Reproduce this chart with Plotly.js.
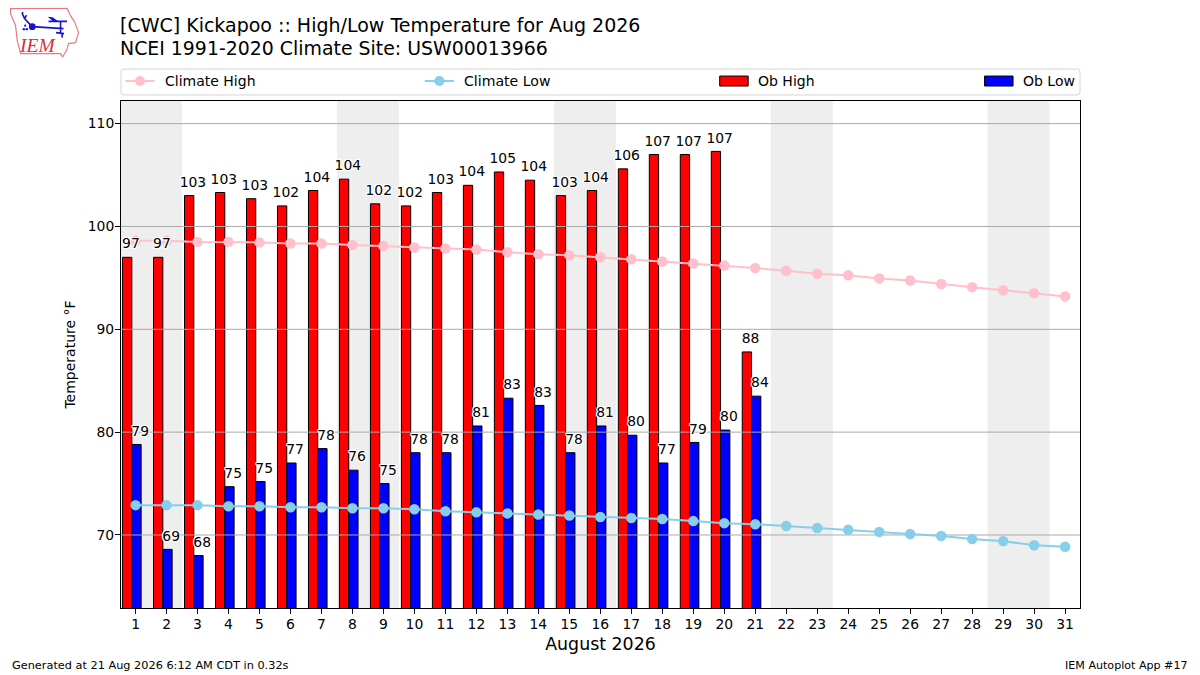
<!DOCTYPE html>
<html><head><meta charset="utf-8">
<script src="https://cdn.plot.ly/plotly-3.0.1.min.js"></script>
<style>html,body{margin:0;padding:0;background:#fff}#c{width:1200px;height:675px}</style>
</head><body><div id="c"></div>
<script>
const FONT = 'DejaVu Sans, sans-serif';
const days = Array.from({length:31},(_,i)=>i+1);
const obDays = days.slice(0,21);
const obHigh = [97.0,97.0,103.0,103.3,102.7,102.0,103.5,104.6,102.2,102.0,103.3,104.0,105.3,104.5,103.0,103.5,105.6,107.0,107.0,107.3,87.8];
const obLow = [78.8,68.6,68.0,74.7,75.2,77.0,78.4,76.3,75.0,78.0,78.0,80.6,83.3,82.6,78.0,80.6,79.7,77.0,79.0,80.2,83.5];
const highLabels = ['97','97','103','103','103','102','104','104','102','102','103','104','105','104','103','104','106','107','107','107','88'];
const lowLabels = ['79','69','68','75','75','77','78','76','75','78','78','81','83','83','78','81','80','77','79','80','84'];
const climHigh = [98.6,98.6,98.5,98.5,98.45,98.35,98.35,98.2,98.1,97.95,97.85,97.75,97.5,97.3,97.2,97.0,96.8,96.6,96.4,96.2,95.95,95.7,95.4,95.25,94.95,94.75,94.4,94.1,93.8,93.5,93.2];
const climLow = [72.9,72.9,72.9,72.8,72.8,72.7,72.7,72.6,72.6,72.5,72.3,72.2,72.1,72.0,71.9,71.75,71.65,71.55,71.35,71.15,71.05,70.87,70.68,70.5,70.3,70.1,69.9,69.6,69.4,69.0,68.85];
const weekends = [[0.5,2.5],[7.5,9.5],[14.5,16.5],[21.5,23.5],[28.5,30.5]];
const yTicks = [70,80,90,100,110];
const xRange = [0.53,31.48];
const yRange = [62.9,112.2];

const halo = '-1px -1px 0 #fff, 1px -1px 0 #fff, -1px 1px 0 #fff, 1px 1px 0 #fff, 0 -1px 0 #fff, 0 1px 0 #fff, -1px 0 0 #fff, 1px 0 0 #fff';
const L=120.5,R=1080,T=100.5,B=608.5,W=1200,H=675;
const px=v=>(v-L)/(R-L), py=v=>(B-v+1)/(B-T);

// grid drawn as a line trace so it sits above the bars and below markers and labels
const gridX=[],gridY=[];
yTicks.forEach(v=>{gridX.push(xRange[0],xRange[1],null);gridY.push(v,v,null);});

const labelTrace=(x,y,text)=>({type:'scatter',mode:'markers+text',x,y,text,textposition:'top center',marker:{size:7,opacity:0},textfont:{family:FONT,size:13.9,color:'#000',shadow:halo},hoverinfo:'skip',showlegend:false});
const traces = [
 {type:'bar',name:'Ob High',x:obDays,y:obHigh,width:0.3,offset:-0.42,marker:{color:'#ff0000',line:{color:'#000',width:1}},hoverinfo:'x+y'},
 {type:'bar',name:'Ob Low',x:obDays,y:obLow,width:0.3,offset:-0.12,marker:{color:'#0000ff',line:{color:'#000',width:1}},hoverinfo:'x+y'},
 {type:'scatter',mode:'lines',x:gridX,y:gridY,line:{color:'#aaaaaa',width:1},hoverinfo:'skip',showlegend:false},
 {type:'scatter',mode:'lines+markers',name:'Climate High',x:days,y:climHigh,line:{color:'#ffc0cb',width:2},marker:{color:'#ffc0cb',size:10.5}},
 {type:'scatter',mode:'lines+markers',name:'Climate Low',x:days,y:climLow,line:{color:'#87ceeb',width:2},marker:{color:'#87ceeb',size:10.5}},
 labelTrace(obDays.map(d=>d-0.15),obHigh,highLabels),
 labelTrace(obDays.map(d=>d+0.15),obLow,lowLabels)
];

const shapes = weekends.map(w=>({type:'rect',layer:'below',xref:'x',yref:'paper',x0:w[0],x1:w[1],y0:0,y1:1,fillcolor:'#eeeeee',line:{width:0}}));
// legend frame and swatches (paper space)
const P=(x,y)=>px(x)+','+py(y);
const fx0=120.5,fx1=1080,fy0=69.5,fy1=95.5,r=3;
shapes.push({type:'path',xref:'paper',yref:'paper',layer:'above',
  path:`M${P(fx0+r,fy0)} L${P(fx1-r,fy0)} Q${P(fx1,fy0)} ${P(fx1,fy0+r)} L${P(fx1,fy1-r)} Q${P(fx1,fy1)} ${P(fx1-r,fy1)} L${P(fx0+r,fy1)} Q${P(fx0,fy1)} ${P(fx0,fy1-r)} L${P(fx0,fy0+r)} Q${P(fx0,fy0)} ${P(fx0+r,fy0)} Z`,
  line:{color:'#d5d5d5',width:1},fillcolor:'#fff'});
const sw=(t,x0,x1,y0,y1,o)=>Object.assign({type:t,xref:'paper',yref:'paper',layer:'above',x0:px(x0),x1:px(x1),y0:py(y1),y1:py(y0)},o);
shapes.push(sw('line',125,154,81.5,81.5,{line:{color:'#ffc0cb',width:2}}));
shapes.push(sw('circle',134.5,144.5,76.5,86.5,{fillcolor:'#ffc0cb',line:{width:0}}));
shapes.push(sw('line',424.5,453.5,81.5,81.5,{line:{color:'#87ceeb',width:2}}));
shapes.push(sw('circle',434,444,76.5,86.5,{fillcolor:'#87ceeb',line:{width:0}}));
shapes.push(sw('rect',719.5,748,76.5,86.5,{fillcolor:'#ff0000',line:{color:'#000',width:1}}));
shapes.push(sw('rect',984.5,1013,76.5,86.5,{fillcolor:'#0000ff',line:{color:'#000',width:1}}));

const note=(t,x,y,size,xa,fam,col)=>({text:t,xref:'paper',yref:'paper',x:px(x),y:py(y),showarrow:false,xanchor:xa||'left',yanchor:'middle',font:{family:fam||FONT,size:size,color:col||'#000'},borderpad:0,borderwidth:0});
const annotations=[
 note('Climate High',164.5,81.5,14),
 note('Climate Low',464,81.5,14.1),
 note('Ob High',758,81.5,14),
 note('Ob Low',1022.5,81.5,14),
 note('Generated at 21 Aug 2026 6:12 AM CDT in 0.32s',11.5,667,11.3),
 note('IEM Autoplot App #17',1188,667,11.1,'right'),
 note('[CWC] Kickapoo :: High/Low Temperature for Aug 2026',119.5,25,19),
 note('NCEI 1991-2020 Climate Site: USW00013966',119.5,48,18.9),
 note('<i>IEM</i>',37,45.5,19.5,'center','Liberation Serif, serif','#d8303a')
];

const logo = 'data:image/svg+xml;utf8,'+encodeURIComponent(`<svg xmlns="http://www.w3.org/2000/svg" width="70" height="50" viewBox="9 7 70 50">
<path d="M10 8 L66.5 7.5 L70 15 L74 21 L78 32 L75 42 L68 43 L66 50 L62 56.5 L60 53 L20 53 L16.7 40 L15 25 L10 13 Z" fill="#fff" stroke="#e87882" stroke-width="1.2"/>
<path d="M21.5 12.5 L24 18 L31.5 26 L63 28 M21.5 13 L22.5 11.5 M24 18 L26 14.5 M48 20.7 L66.5 20.7 M60 21 L60 33 M55.5 32 L63.5 33 M61.5 33 L61.7 37" fill="none" stroke="#1414d2" stroke-width="1.6"/>
<path d="M47.3 16 L52 16.5 L58.5 21 L53 21 Z" fill="#1414d2"/>
<circle cx="31.7" cy="26" r="3.4" fill="#1414d2"/><circle cx="23.3" cy="28.5" r="1.2" fill="#1414d2"/><circle cx="26.3" cy="28.5" r="1.2" fill="#1414d2"/><circle cx="24.6" cy="25" r="1.1" fill="#1414d2"/>
</svg>`);

const axisBase={tickmode:'array',ticks:'outside',ticklen:5,tickwidth:1,tickcolor:'#000',zeroline:false,showline:true,mirror:true,linecolor:'#000',linewidth:1,tickfont:{family:FONT,size:13.9,color:'#000'},automargin:false};
const layout = {
 width:W,height:H,paper_bgcolor:'#fff',plot_bgcolor:'#fff',showlegend:false,barmode:'overlay',
 margin:{l:L,r:W-R,t:T,b:H-B,pad:0},
 font:{family:FONT,size:13.9,color:'#000'},
 xaxis:Object.assign({},axisBase,{range:xRange,tickvals:days,ticktext:days.map(String),showgrid:false,ticklabelstandoff:-2,
   title:{text:'August 2026',font:{family:FONT,size:17.4,color:'#000'},standoff:7}}),
 yaxis:Object.assign({},axisBase,{range:yRange,tickvals:yTicks,ticktext:yTicks.map(String),showgrid:false,ticklabelstandoff:-2,
   title:{text:'Temperature °F',font:{family:FONT,size:14,color:'#000'},standoff:8}}),
 shapes,annotations,
 images:[{source:logo,xref:'paper',yref:'paper',x:px(9),y:py(8),sizex:70/(R-L),sizey:50/(B-T),xanchor:'left',yanchor:'top',sizing:'stretch',layer:'above'}]
};
Plotly.newPlot('c',traces,layout,{displayModeBar:false,staticPlot:true});
</script></body></html>
